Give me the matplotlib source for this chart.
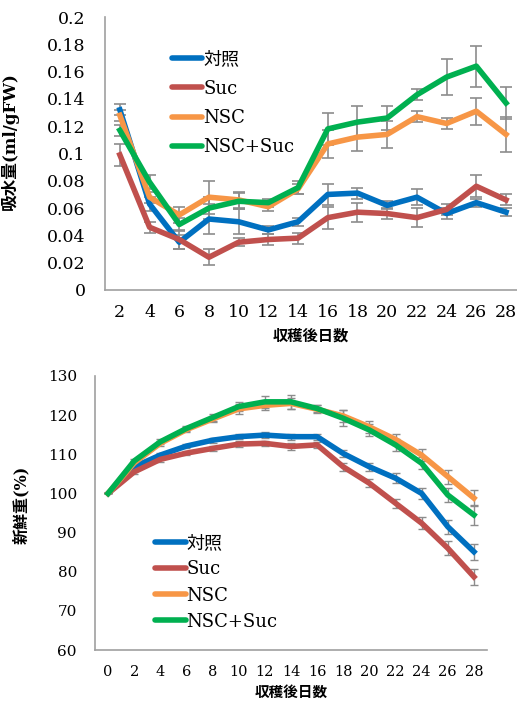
import numpy as np
import matplotlib.pyplot as plt
from matplotlib.lines import Line2D

# top chart: water uptake
days_top = [2, 4, 6, 8, 10, 12, 14, 16, 18, 20, 22, 24, 26, 28]
ctrl_w = [0.132, 0.063, 0.035, 0.052, 0.050, 0.044, 0.050, 0.070, 0.071, 0.062, 0.068, 0.056, 0.064, 0.057]
suc_w = [0.099, 0.046, 0.037, 0.024, 0.035, 0.037, 0.038, 0.053, 0.057, 0.056, 0.053, 0.059, 0.076, 0.066]
nsc_w = [0.128, 0.068, 0.055, 0.068, 0.066, 0.061, 0.074, 0.107, 0.112, 0.114, 0.127, 0.122, 0.131, 0.114]
nscsuc_w = [0.117, 0.079, 0.048, 0.060, 0.065, 0.064, 0.075, 0.118, 0.123, 0.126, 0.143, 0.156, 0.164, 0.137]
ctrl_we = [0.004, 0.005, 0.005, 0.011, 0.009, 0.003, 0.003, 0.008, 0.004, 0.003, 0.006, 0.004, 0.003, 0.003]
suc_we = [0.008, 0.004, 0.007, 0.006, 0.003, 0.004, 0.004, 0.008, 0.007, 0.004, 0.007, 0.004, 0.008, 0.004]
nsc_we = [0.004, 0.004, 0.006, 0.012, 0.006, 0.003, 0.004, 0.010, 0.010, 0.010, 0.004, 0.004, 0.010, 0.013]
nscsuc_we = [0.004, 0.005, 0.005, 0.008, 0.006, 0.003, 0.005, 0.012, 0.012, 0.009, 0.004, 0.013, 0.015, 0.012]

# bottom chart: fresh weight
days_bot = [0, 2, 4, 6, 8, 10, 12, 14, 16, 18, 20, 22, 24, 26, 28]
ctrl_f = [100, 106.8, 109.8, 112.1, 113.6, 114.5, 114.9, 114.5, 114.5, 110.2, 106.8, 103.9, 100.0, 91.5, 85.1]
suc_f = [100, 105.5, 108.7, 110.3, 111.5, 112.6, 112.8, 112.0, 112.4, 106.8, 102.6, 97.5, 92.4, 86.0, 78.7]
nsc_f = [100, 107.8, 112.8, 116.3, 119.0, 121.6, 122.5, 123.0, 121.5, 119.8, 117.0, 113.8, 109.8, 104.3, 98.8]
nscsuc_f = [100, 108.3, 113.2, 116.6, 119.4, 122.2, 123.4, 123.4, 121.7, 119.2, 116.2, 112.4, 107.7, 99.6, 94.5]
ctrl_fe = [0, 0.6, 0.6, 0.6, 0.6, 0.7, 0.7, 0.8, 0.8, 1.0, 1.0, 1.2, 1.5, 1.8, 2.0]
suc_fe = [0, 0.6, 0.6, 0.6, 0.6, 0.7, 0.7, 0.8, 0.8, 1.0, 1.0, 1.2, 1.5, 1.8, 2.0]
nsc_fe = [0, 0.6, 0.6, 0.6, 0.8, 1.2, 1.2, 1.5, 1.0, 1.5, 1.5, 1.5, 1.5, 1.8, 2.0]
nscsuc_fe = [0, 0.6, 0.6, 0.6, 0.8, 1.2, 1.5, 1.8, 1.0, 2.0, 1.5, 1.5, 1.5, 1.8, 2.5]

labels = ['対照', 'Suc', 'NSC', 'NSC+Suc']
colors = ['#0070C0', '#C0504D', '#F79646', '#00B050']

fam = ['DejaVu Serif', 'Noto Sans CJK JP']
plt.rcParams['font.family'] = fam

fig = plt.figure(figsize=(5.17, 7.01), dpi=100)

handles = [Line2D([], [], color=c, lw=4, solid_capstyle='round') for c in colors]


def style_axes(ax):
    for s in ['top', 'right']:
        ax.spines[s].set_visible(False)
    for s in ['left', 'bottom']:
        ax.spines[s].set_color('#a0a0a0')
        ax.spines[s].set_linewidth(1.2)


# ---- top ----
ax1 = fig.add_axes([105/517, 1-290/701, 1-105/517, 273/701])
x1 = np.arange(len(days_top))
for ys, es, c in zip([ctrl_w, suc_w, nsc_w, nscsuc_w],
                     [ctrl_we, suc_we, nsc_we, nscsuc_we], colors):
    ax1.errorbar(x1, ys, yerr=es, color=c, lw=4,
                 ecolor='#8c8c8c', elinewidth=1.2, capsize=4, capthick=1.2)
ax1.set_xlim(-0.5, 13.37)
ax1.set_ylim(0, 0.2)
ax1.set_yticks(np.arange(0, 0.201, 0.02))
ax1.set_yticklabels(['0', '0.02', '0.04', '0.06', '0.08', '0.1', '0.12', '0.14', '0.16', '0.18', '0.2'])
ax1.set_xticks(x1)
ax1.set_xticklabels([str(d) for d in days_top])
ax1.tick_params(length=0, labelsize=12.5, pad=10)
ax1.tick_params(axis='y', pad=14)
style_axes(ax1)
ax1.set_ylabel('吸水量(ml/gFW)', fontsize=12, fontweight='bold')
ax1.yaxis.set_label_coords(-0.21, 0.545)
ax1.set_xlabel('収穫後日数', fontsize=11, fontweight='bold', labelpad=6)
ax1.legend(handles, labels, loc='upper left', bbox_to_anchor=(0.14, 0.91), frameon=False,
           fontsize=13, handlelength=1.7, handletextpad=0.05, labelspacing=0.62,
           borderpad=0)

# ---- bottom ----
ax2 = fig.add_axes([95/517, 1-650/701, 392/517, 274/701])
x2 = np.arange(len(days_bot))
for ys, es, c in zip([ctrl_f, suc_f, nsc_f, nscsuc_f],
                     [ctrl_fe, suc_fe, nsc_fe, nscsuc_fe], colors):
    ax2.errorbar(x2, ys, yerr=es, color=c, lw=4,
                 ecolor='#8c8c8c', elinewidth=1.0, capsize=3, capthick=1.0)
ax2.set_xlim(-0.5, 14.5)
ax2.set_ylim(60, 130)
ax2.set_yticks(np.arange(60, 131, 10))
ax2.set_xticks(x2)
ax2.set_xticklabels([str(d) for d in days_bot])
ax2.tick_params(length=0, labelsize=11, pad=11)
ax2.tick_params(axis='x', labelsize=10.5)
ax2.tick_params(axis='y', pad=13)
style_axes(ax2)
ax2.set_ylabel('新鮮重(%)', fontsize=11.5, fontweight='bold')
ax2.yaxis.set_label_coords(-0.165, 0.53)
ax2.set_xlabel('収穫後日数', fontsize=10.5, fontweight='bold', labelpad=5)
ax2.legend(handles, labels, loc='upper left', bbox_to_anchor=(0.13, 0.455), frameon=False,
           fontsize=13, handlelength=1.7, handletextpad=0.05, labelspacing=0.45,
           borderpad=0)

fig.savefig('out.png', dpi=100)
